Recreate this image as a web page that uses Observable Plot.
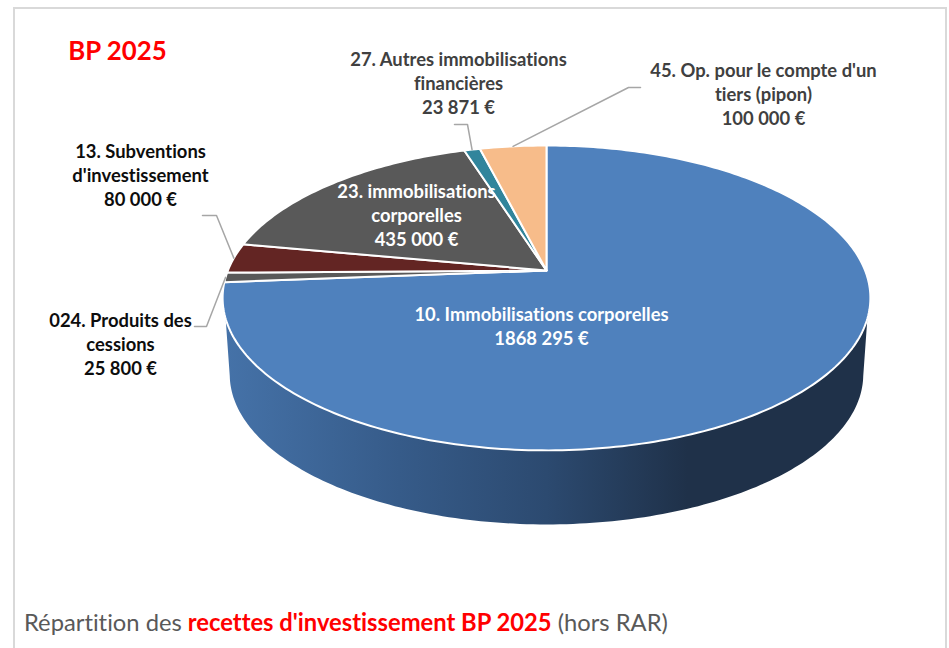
<!DOCTYPE html>
<html><head><meta charset="utf-8">
<script src="https://cdn.jsdelivr.net/npm/d3@7"></script>
<script src="https://cdn.jsdelivr.net/npm/@observablehq/plot@0.6"></script>
<style>
html,body{margin:0;padding:0;background:#fff;width:949px;height:648px;overflow:hidden}
#frame{position:absolute;left:13px;top:7px;width:930px;height:650px;border:2px solid #d9d9d9;box-sizing:content-box;pointer-events:none}
#chart{position:absolute;left:0;top:0}
#chart text{font-variant-ligatures:none}
#caption{position:absolute;left:24px;top:608px;font:23.75px Lato,sans-serif;color:#595959;white-space:nowrap;font-variant-ligatures:none}
#caption b{color:#ff0000;font-weight:700}
</style></head><body>
<div id="chart"></div>
<div id="frame"></div>
<div id="caption">Répartition des <b>recettes d'investissement BP 2025</b> (hors RAR)</div>
<script>
const sliceNames = ["10. Immobilisations corporelles","024. Produits des cessions","13. Subventions d'investissement","23. immobilisations corporelles","27. Autres immobilisations financières","45. Op. pour le compte d'un tiers (pipon)"];
const sliceValues = [1868295, 25800, 80000, 435000, 23871, 100000];
const sliceColors = ["#4f81bd","#595959","#632523","#595959","#31859c","#f7bc8a"];
const valueLabels = ["1868 295 €","25 800 €","80 000 €","435 000 €","23 871 €","100 000 €"];
const labelLines = [
  "10. Immobilisations corporelles",
  "024. Produits des\ncessions",
  "13. Subventions\nd'investissement",
  "23. immobilisations\ncorporelles",
  "27. Autres immobilisations\nfinancières",
  "45. Op. pour le compte d'un\ntiers (pipon)"
];
const labelX = [541, 120, 140, 416, 458, 763];
const labelY = [326, 344, 175, 215, 83, 94];
const labelInk = ["#ffffff","#0d0d0d","#0d0d0d","#ffffff","#404040","#404040"];
const leaderStart = [null, [[194,326],[206,326]], [[202,215],[216,215]], null, [[454,124],[467,124]], [[640,87],[628,87]]];

// Perspective disc: the apex, the far and near rims fix the projection
const W = 949, H = 600;
const apex = [546, 270], radius = 318.6, persp = 0.18, squash = 147.5;
const rim = (deg) => {
  const a = deg * Math.PI / 180, u = Math.sin(a), v = Math.cos(a), d = 1 + persp * v;
  return [apex[0] + radius * u / d, apex[1] - squash * v / d];
};
const total = d3.sum(sliceValues);
let cum = 0;
const slices = sliceNames.map((name, i) => {
  const start = cum / total * 360; cum += sliceValues[i];
  return {name, start, end: cum / total * 360, mid: (start + cum / total * 360) / 2};
});
const wedgeRows = slices.flatMap(s => {
  const n = Math.max(4, Math.ceil(s.end - s.start));
  const pts = [[apex[0], apex[1]]];
  for (let k = 0; k <= n; k++) pts.push(rim(s.start + (s.end - s.start) * k / n));
  pts.push([apex[0], apex[1]]);
  return pts.map(p => ({name: s.name, x: p[0], y: p[1]}));
});
// Side wall: near half of rim, and the same rim pushed down
const depthScaleX = 0.978, depthScaleY = 0.984, rimCY = 297.5, wallCY = 374;
const wallTop = [], wallBottom = [];
for (let deg = 60; deg <= 300; deg += 1) {
  const p = rim(deg);
  if (p[1] >= 318) wallTop.push(p);
  const q = [apex[0] + (p[0] - apex[0]) * depthScaleX, wallCY + (p[1] - rimCY) * depthScaleY];
  if (q[1] >= wallCY) wallBottom.push(q);
}
const wallPts = [...wallTop, ...wallBottom.reverse(), wallTop[0]];
const wallRows = wallPts.map(p => ({x: p[0], y: p[1]}));

const leaderRows = leaderStart.flatMap((st, i) => {
  if (!st) return [];
  const end = rim(slices[i].mid);
  return [...st, end].map(p => ({id: i, x: p[0], y: p[1]}));
});
const labels = sliceNames.map((n, i) => ({
  text: labelLines[i] + "\n" + valueLabels[i], x: labelX[i], y: labelY[i] - 1, ink: labelInk[i]
}));
const textOpts = {x: "x", y: "y", text: "text", fontSize: 18.4, fontWeight: 700, lineHeight: 1.29, fontFamily: "Lato", textAnchor: "middle", lineAnchor: "middle"};

const gradient = () => {
  const defs = d3.create("svg:defs");
  const g = defs.append("linearGradient").attr("id", "wall").attr("x1", 0).attr("x2", 1).attr("y1", 0).attr("y2", 0);
  [[0,"#4572a8"],[0.27,"#365b89"],[0.5,"#2c4a70"],[0.72,"#1f3149"],[1,"#1f3149"]].forEach(([o,c]) =>
    g.append("stop").attr("offset", o).attr("stop-color", c));
  return defs.node();
};

const plot = Plot.plot({
  width: W, height: H, margin: 0,
  style: {background: "transparent"},
  x: {domain: [0, W], range: [0, W], axis: null},
  y: {domain: [0, H], range: [0, H], axis: null},
  color: {domain: sliceNames.map((_, i) => i), range: sliceColors},
  marks: [
    gradient,
    Plot.line(wallRows, {x: "x", y: "y", fill: "url(#wall)", stroke: "none"}),
    Plot.line(wedgeRows, {x: "x", y: "y", z: "name", fill: d => sliceNames.indexOf(d.name), stroke: "white", strokeWidth: 2, strokeLinejoin: "round"}),
    Plot.line(leaderRows, {x: "x", y: "y", z: "id", stroke: "#a6a6a6", strokeWidth: 1.5}),
    ...d3.groups(labels, d => d.ink).map(([ink, rows]) => Plot.text(rows, {...textOpts, fill: ink})),
    Plot.text(["BP 2025"], {x: [117], y: [51], text: d => d, fill: "#ff0000", fontSize: 25.8, fontWeight: 700, fontFamily: "Lato", textAnchor: "middle", lineAnchor: "middle"})
  ]
});
document.getElementById("chart").append(plot);
</script>
</body></html>
